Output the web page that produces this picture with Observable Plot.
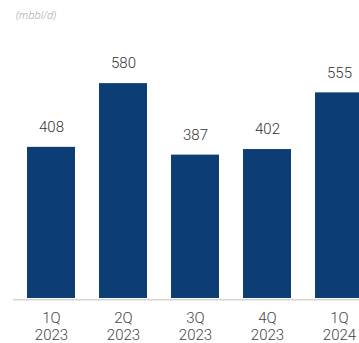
<!DOCTYPE html>
<html>
<head>
<meta charset="utf-8">
<script src="https://cdn.jsdelivr.net/npm/d3@7"></script>
<script src="https://cdn.jsdelivr.net/npm/@observablehq/plot@0.6"></script>
<style>
  html, body { margin: 0; padding: 0; background: #fff; overflow: hidden; width: 359px; height: 343px; }
  #wrap { position: relative; width: 359px; height: 343px; overflow: hidden; }
  #unit { position: absolute; left: 16px; top: 7px; font: italic 300 11px "Open Sans", sans-serif; color: #9a9a9a; }
  #chart svg { display: block; }
</style>
</head>
<body>
<div id="wrap">
  <div id="chart"></div>
  <div id="unit">(mbbl/d)</div>
</div>
<script>
const quarters = ["1Q", "2Q", "3Q", "4Q", "1Q"];
const years = ["2023", "2023", "2023", "2023", "2024"];
const values = [408, 580, 387, 402, 555];

const data = quarters.map((q, i) => ({key: q + "\n" + years[i], value: values[i]}));
const keys = data.map(d => d.key);
const font = "'Roboto', sans-serif";

const chart = Plot.plot({
  width: 359,
  height: 343,
  marginLeft: 13,
  marginRight: 0,
  marginTop: 0,
  marginBottom: 45,
  style: {fontFamily: font, background: "white", overflow: "hidden"},
  x: {domain: keys, range: [13.75, 375.75], paddingInner: 0.34, paddingOuter: 0.17, axis: null},
  y: {domain: [0, 600], range: [298, 75.7], axis: null},
  marks: [
    Plot.barY(data, {x: "key", y: "value", fill: "#0c3d74"}),
    Plot.ruleY([0], {stroke: "#d4d4d4", strokeWidth: 1.5, dy: 1.3}),
    Plot.text(data, {x: "key", y: "value", text: d => String(d.value), dy: -20, fontSize: 15, fontWeight: 300, fill: "#333"}),
    Plot.axisX(keys, {tickSize: 0, tickPadding: 13, fontSize: 15, fontWeight: 300, lineHeight: 1.12, fill: "#444", label: null})
  ]
});
document.getElementById("chart").appendChild(chart);
</script>
</body>
</html>
